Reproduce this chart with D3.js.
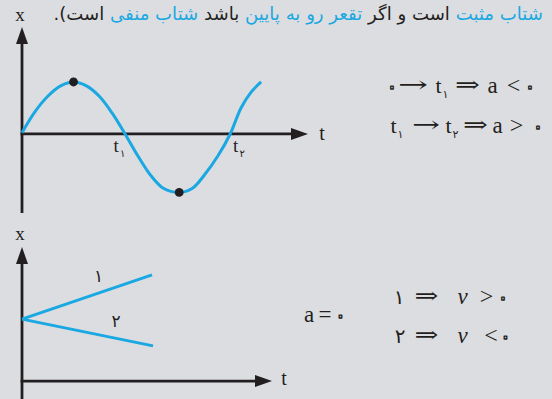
<!DOCTYPE html>
<html>
<head>
<meta charset="utf-8">
<script src="https://cdn.jsdelivr.net/npm/d3@7"></script>
<style>
  html, body { margin: 0; padding: 0; background: #dcdde0; }
  svg { display: block; }
</style>
</head>
<body>
<div id="chart"></div>
<script>
// top graph: x(t) (t in ticks of ~26px, x in ~26px units)
const curveT = [0, 0.5, 1, 1.5, 2, 2.5, 3, 3.5, 4, 4.5, 5, 5.5, 6.1, 6.6, 7.1, 7.6, 8.08, 8.5, 8.9, 9.28];
const curveX = [0.05, 0.85, 1.45, 1.85, 2.0, 1.85, 1.45, 0.8, 0, -0.85, -1.6, -2.1, -2.25, -2.1, -1.55, -0.85, 0, 1.0, 1.62, 2.0];
const extremaT = [2, 6.1];
const extremaX = [2, -2.25];
const zeroT = [4, 8.08];
const zeroNames = ["۱", "۲"];

// bottom graph: two straight lines from the same start
const lineNames = ["۱", "۲"];
const lineStartT = [0, 0];
const lineStartX = [2.38, 2.38];
const lineEndT = [5.05, 5.09];
const lineEndX = [4.08, 1.35];

// header phrases, in reading order (right to left)
const headerText = ["شتاب مثبت", "است و اگر", "تقعر رو به پایین", "باشد", "شتاب منفی", "است)."];
const headerBlue = [true, false, true, false, true, false];

const W = 552, H = 399;
const BG = "#dcdde0", BLUE = "#1aa8e2", INK = "#231f20";
const SERIF = "'Liberation Serif', 'DejaVu Serif', serif";
const FA = "'DejaVu Sans', sans-serif";

const svg = d3.select("#chart").append("svg")
  .attr("width", W).attr("height", H);

// scales
const t1 = d3.scaleLinear().domain([0, 11.1]).range([22, 308]);
const x1 = d3.scaleLinear().domain([-3.04, 4.115]).range([213, 27]);
const t2 = d3.scaleLinear().domain([0, 9.71]).range([22, 272]);
const x2 = d3.scaleLinear().domain([-0.69, 5.15]).range([399, 247]);

function arrow(g, x, y, dir) {
  // dir: "up" or "right"; tip at (x,y)
  const L = 17, hw = 6;
  const pts = dir === "up"
    ? [[x, y], [x - hw, y + L], [x + hw, y + L]]
    : [[x, y], [x - L, y - hw], [x - L, y + hw]];
  g.append("path").attr("d", "M" + pts.join("L") + "Z").attr("fill", INK);
}

function axes(tS, xS, lbl) {
  const g = svg.append("g");
  const ox = tS(0), oy = xS(0);
  const tMax = tS.range()[1];
  const [yBot, yTop] = xS.range();
  g.append("line").attr("x1", ox).attr("x2", ox).attr("y1", yBot).attr("y2", yTop + 12)
    .attr("stroke", INK).attr("stroke-width", 2.8);
  g.append("line").attr("x1", ox - 1.4).attr("x2", tMax - 12).attr("y1", oy).attr("y2", oy)
    .attr("stroke", INK).attr("stroke-width", 2.8);
  arrow(g, ox, yTop, "up");
  arrow(g, tMax, oy, "right");
  g.append("text").attr("x", lbl.xx).attr("y", lbl.xy).attr("text-anchor", "middle")
    .attr("font-family", SERIF).attr("font-size", 19).attr("fill", INK).text("x");
  g.append("text").attr("x", lbl.tx).attr("y", lbl.ty).attr("text-anchor", "middle")
    .attr("font-family", SERIF).attr("font-size", 20).attr("fill", INK).text("t");
}

// header line: phrases laid out right to left, sized to span 543 -> 53
const hd = svg.append("g").selectAll("text")
  .data(headerText)
  .enter().append("text")
  .attr("y", 20)
  .attr("direction", "rtl")
  .attr("text-anchor", "start")
  .attr("font-family", FA)
  .attr("font-size", 18)
  .attr("fill", (d, i) => headerBlue[i] ? BLUE : INK)
  .text(d => d);
{
  const gapEm = 0.32;
  let total = 0;
  hd.each(function() { total += this.getComputedTextLength(); });
  total += gapEm * 18 * (headerText.length - 1);
  const fs = 18 * (543 - 53) / total;
  hd.attr("font-size", fs);
  let cur = 543;
  hd.each(function() {
    d3.select(this).attr("x", cur);
    cur -= this.getComputedTextLength() + gapEm * fs;
  });
}

// top graph
axes(t1, x1, {xx: 20, xy: 21, tx: 322, ty: 140});

const pts = curveT.map((t, i) => [t, curveX[i]]);
svg.append("path")
  .datum(pts)
  .attr("fill", "none")
  .attr("stroke", BLUE)
  .attr("stroke-width", 3)
  .attr("d", d3.line().x(d => t1(d[0])).y(d => x1(d[1])).curve(d3.curveCatmullRom.alpha(0.5)));

svg.selectAll("circle.ext")
  .data(extremaT)
  .enter().append("circle")
  .attr("cx", d => t1(d))
  .attr("cy", (d, i) => x1(extremaX[i]))
  .attr("r", 4.4)
  .attr("fill", INK);

const zl = svg.selectAll("g.zero").data(zeroT).enter().append("g");
const zOff = [-9, 5.5];
zl.append("text")
  .attr("x", (d, i) => t1(d) + zOff[i])
  .attr("y", 152)
  .attr("text-anchor", "middle")
  .attr("font-family", SERIF).attr("font-size", 19).attr("fill", INK)
  .text("t");
zl.append("text")
  .attr("x", (d, i) => t1(d) + zOff[i] + 6.5)
  .attr("y", 157)
  .attr("text-anchor", "middle")
  .attr("font-family", FA).attr("font-size", 10).attr("fill", INK)
  .text((d, i) => zeroNames[i]);

// bottom graph
axes(t2, x2, {xx: 20, xy: 240, tx: 284, ty: 385});

svg.selectAll("line.v")
  .data(lineNames)
  .enter().append("line")
  .attr("x1", (d, i) => t2(lineStartT[i]))
  .attr("y1", (d, i) => x2(lineStartX[i]))
  .attr("x2", (d, i) => t2(lineEndT[i]))
  .attr("y2", (d, i) => x2(lineEndX[i]))
  .attr("stroke", BLUE).attr("stroke-width", 3);

const lblPos = [[98.5, 282], [116, 327]];
svg.selectAll("text.ln")
  .data(lineNames)
  .enter().append("text")
  .attr("x", (d, i) => lblPos[i][0])
  .attr("y", (d, i) => lblPos[i][1])
  .attr("text-anchor", "middle")
  .attr("font-family", FA).attr("font-size", 17).attr("fill", INK)
  .text(d => d);

// formulas on the right
function tok(x, y, s, size, opts) {
  opts = opts || {};
  const t = svg.append("text")
    .attr("x", x).attr("y", y)
    .attr("text-anchor", "middle")
    .attr("font-family", opts.font || SERIF)
    .attr("font-size", size)
    .attr("font-style", opts.italic ? "italic" : null)
    .attr("fill", INK)
    .text(s);
  if (opts.len) t.attr("textLength", opts.len).attr("lengthAdjust", "spacingAndGlyphs");
  return t;
}
// persian zero drawn as a small ring
function zero(x, y) {
  tok(x, y + 1, "۰", 24, {font: FA})
    .attr("fill", BG).attr("stroke", INK).attr("stroke-width", 1.3)
    .attr("stroke-linejoin", "round");
}
function arr(x, y, s, len) {
  tok(x, y - 1, s, 22, {font: "'DejaVu Serif', serif", len: len});
}

// 0 -> t1 => a < 0
zero(392, 93);
arr(413, 93, "→", 30);
tok(438.5, 93, "t", 22);
tok(445.5, 98, "۱", 11, {font: FA});
arr(467.5, 93, "⇒", 25);
tok(492.5, 93, "a", 23);
tok(513.5, 93, "<", 24);
zero(530, 93);
// t1 -> t2 => a > 0
tok(393.5, 133, "t", 22);
tok(400.5, 138, "۱", 11, {font: FA});
arr(426, 133, "→", 28);
tok(448.5, 133, "t", 22);
tok(455.5, 138, "۲", 11, {font: FA});
arr(475.5, 133, "⇒", 25);
tok(497.5, 133, "a", 23);
tok(516.5, 133, ">", 24);
zero(538, 133);

// a = 0
tok(309, 322, "a", 23);
tok(325, 322, "=", 23);
zero(340.5, 322);
// 1 => v > 0
tok(399, 304, "۱", 20, {font: FA});
arr(426.5, 304, "⇒", 24);
tok(462.5, 304, "v", 23, {italic: true});
tok(486.5, 304, ">", 24);
zero(503, 304);
// 2 => v < 0
tok(400, 343, "۲", 20, {font: FA});
arr(426.5, 343, "⇒", 24);
tok(462.5, 343, "v", 23, {italic: true});
tok(491, 343, "<", 24);
zero(505.5, 343);
</script>
</body>
</html>
